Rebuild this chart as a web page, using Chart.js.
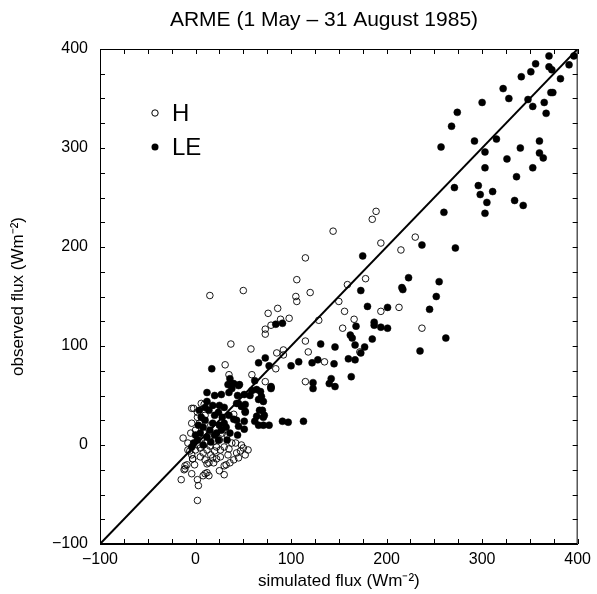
<!DOCTYPE html>
<html>
<head>
<meta charset="utf-8">
<script src="https://cdn.jsdelivr.net/npm/chart.js@4.4.1/dist/chart.umd.min.js"></script>
<style>
html, body { margin: 0; padding: 0; background: #fff; }
#wrap { width: 597px; height: 594px; }
</style>
</head>
<body>
<div id="wrap"><canvas id="fluxChart" width="597" height="594"></canvas></div>
<script>
// H (sensible heat) - open circles
var hX = [189,185,144,194,230,215,115,50,15,106,120,105,106,86,76,98,89,79,73,73,159,178,150,129,156,166,154,194,213,237,115,118,135,92,92,85,58,37,84,115,172,59,73,31,35,-2,9,2,40,
    -15,2,3,2,8,10,12,14,12,14,19,25,30,30,-4,-11,-12,-9,-11,5,-3,55,43,45,34,26,50,42,33,-13,-8,-6,-4,-3,4,6,-4,0,5,8,12,16,20,22,26,30,35,38,47,52,40,18,10,2,6,10,15,20,-5,0,3,8,14,25,28,-8,-1,22,36,48,16,-4,2,10,32];
var hY = [236,228,216,204,210,197,189,156,151,167,154,150,145,138,133,128,127,121,117,112,162,168,145,126,135,127,118,135,139,118,105,94,84,96,91,93,97,102,77,64,94,71,64,81,71,37,41,33,31,
    -35,-56,-41,-35,-31,-29,-28,-31,-19,-18,-18,-26,-30,-21,-29,-24,-25,-20,-21,-12,-14,-5,-8,-13,-10,-12,-3,2,10,7,2,-6,-10,-14,22,42,37,-5,-3,-8,-5,-10,-6,-2,-5,-2,-4,2,-6,-10,-15,-13,-15,0,5,2,-1,4,12,15,10,13,8,5,12,-5,-20,-14,-18,0,20,22,28,30,-20];

// LE (latent heat) - filled circles
var leX = [370,396,356,370,373,351,391,341,382,322,328,372,374,300,348,353,365,367,274,268,292,315,257,303,340,360,360,364,326,303,353,336,271,296,298,311,305,334,343,260,303,237,272,175,
    223,255,173,216,217,252,180,201,245,84,91,168,187,187,194,201,162,164,167,185,177,173,131,146,262,235,160,167,145,128,122,108,100,73,66,77,163,142,123,123,140,146,79,62,
    17,12,20,27,34,36,40,46,35,44,51,57,59,69,71,67,70,72,45,48,30,24,52,43,45,66,71,77,62,91,97,113,79,64,68,66,79,64,71,52,51,40,51,36,44,33,43,52,38,45,
    2,5,8,10,12,15,18,20,22,25,28,3,6,14,18,24,27,30,8,16,0,-2,12,25,4,10,20,32,35,-4];
var leY = [393,393,385,382,379,377,384,372,370,360,350,356,356,346,349,342,346,335,336,322,307,309,301,296,300,307,295,290,289,280,280,271,260,262,253,256,245,247,242,235,234,202,199,191,
    169,165,156,159,157,150,140,139,137,122,123,120,124,121,119,118,111,108,101,107,99,93,102,99,108,95,87,86,82,86,83,84,80,88,83,80,69,67,63,57,62,59,57,65,
    77,53,50,51,61,67,62,61,53,50,51,50,55,49,44,35,35,30,42,39,38,33,33,25,19,20,20,20,24,24,23,24,58,56,54,46,59,29,28,34,24,26,16,12,10,5,42,41,57,60,
    5,12,18,25,8,15,22,30,12,20,28,20,28,35,40,5,15,22,0,3,10,2,44,40,35,38,10,18,30,-2];

// 1:1 line
var lineX = [-100, 400];
var lineY = [-100, 400];

var axisMin = -100;
var axisMax = 400;
var minorStep = 25;
var chartTitle = 'ARME (1 May \u2013 31 August 1985)';

var FONT = '"Liberation Sans", Arial, Helvetica, sans-serif';

function toPoints(xs, ys) {
    var pts = [];
    for (var i = 0; i < xs.length; i++) pts.push({x: xs[i], y: ys[i]});
    return pts;
}
function minusSign(v) {
    return String(v).replace('-', '\u2212');
}

// frame, inward ticks on all four sides, title and the H / LE key
var framePlugin = {
    id: 'frame',
    afterDatasetsDraw: function (chart) {
        var ctx = chart.ctx;
        var a = chart.chartArea;
        var xs = chart.scales.x, ys = chart.scales.y;
        ctx.save();
        ctx.strokeStyle = '#000';
        ctx.lineWidth = 1;
        ctx.strokeRect(a.left + 0.5, a.top + 0.5, a.right - a.left - 1, a.bottom - a.top - 1);
        ctx.beginPath();
        for (var v = axisMin; v <= axisMax; v += minorStep) {
            var px = Math.round(xs.getPixelForValue(v)) + 0.5;
            ctx.moveTo(px, a.bottom); ctx.lineTo(px, a.bottom - 5);
            ctx.moveTo(px, a.top); ctx.lineTo(px, a.top + 5);
            var py = Math.round(ys.getPixelForValue(v)) + 0.5;
            ctx.moveTo(a.left, py); ctx.lineTo(a.left + 5, py);
            ctx.moveTo(a.right, py); ctx.lineTo(a.right - 5, py);
        }
        ctx.stroke();

        // title
        ctx.fillStyle = '#000';
        ctx.font = '21px ' + FONT;
        ctx.textAlign = 'center';
        ctx.textBaseline = 'middle';
        ctx.fillText(chartTitle, 324, 20);

        // key
        var kx = a.left + 55, ky = a.top + 64;
        ctx.beginPath();
        ctx.arc(kx, ky, 3.2, 0, Math.PI * 2);
        ctx.fillStyle = '#fff';
        ctx.fill();
        ctx.stroke();
        ctx.beginPath();
        ctx.arc(kx, ky + 34, 3.5, 0, Math.PI * 2);
        ctx.fillStyle = '#000';
        ctx.fill();
        ctx.font = '24px ' + FONT;
        ctx.textAlign = 'left';
        ctx.fillText('H', kx + 17, ky + 1);
        ctx.fillText('LE', kx + 17, ky + 35);
        ctx.restore();
    }
};

var ctx = document.getElementById('fluxChart').getContext('2d');
var myChart = new Chart(ctx, {
    type: 'scatter',
    data: {
        datasets: [{
            label: '1:1',
            type: 'line',
            data: toPoints(lineX, lineY),
            borderColor: '#000',
            borderWidth: 2,
            pointRadius: 0,
            fill: false,
            order: 0
        }, {
            label: 'H',
            data: toPoints(hX, hY),
            pointRadius: 3.3,
            pointBorderWidth: 0.9,
            pointBorderColor: '#000',
            pointBackgroundColor: 'rgba(255,255,255,0)',
            order: 1
        }, {
            label: 'LE',
            data: toPoints(leX, leY),
            pointRadius: 3.5,
            pointBorderWidth: 0.5,
            pointBorderColor: '#000',
            pointBackgroundColor: '#000',
            order: 2
        }]
    },
    options: {
        responsive: false,
        animation: false,
        layout: { padding: { top: 49, right: 19, bottom: 0, left: 0 } },
        plugins: {
            legend: { display: false },
            tooltip: { enabled: false },
            title: { display: false }
        },
        scales: {
            x: {
                type: 'linear',
                min: axisMin,
                max: axisMax,
                grid: { display: false, drawTicks: false },
                border: { display: true, color: '#000', width: 1 },
                ticks: {
                    stepSize: 100,
                    color: '#000',
                    padding: 6,
                    maxRotation: 0,
                    font: { family: FONT, size: 16 },
                    callback: function (v) { return minusSign(v); }
                },
                title: {
                    display: true,
                    text: 'simulated flux (Wm\u207B\u00B2)',
                    color: '#000',
                    font: { family: FONT, size: 17 },
                    padding: { top: 0, bottom: 2 }
                },
                afterFit: function (scale) { scale.height = 50; }
            },
            y: {
                type: 'linear',
                min: axisMin,
                max: axisMax,
                grid: { display: false, drawTicks: false },
                border: { display: true, color: '#000', width: 1 },
                ticks: {
                    stepSize: 100,
                    color: '#000',
                    padding: 12,
                    font: { family: FONT, size: 16 },
                    callback: function (v) { return minusSign(v); }
                },
                title: {
                    display: true,
                    text: 'observed flux (Wm\u207B\u00B2)',
                    color: '#000',
                    font: { family: FONT, size: 17 },
                    padding: { top: 8, bottom: 0 }
                },
                afterFit: function (scale) { scale.width = 100; }
            }
        }
    },
    plugins: [framePlugin]
});
</script>
</body>
</html>
